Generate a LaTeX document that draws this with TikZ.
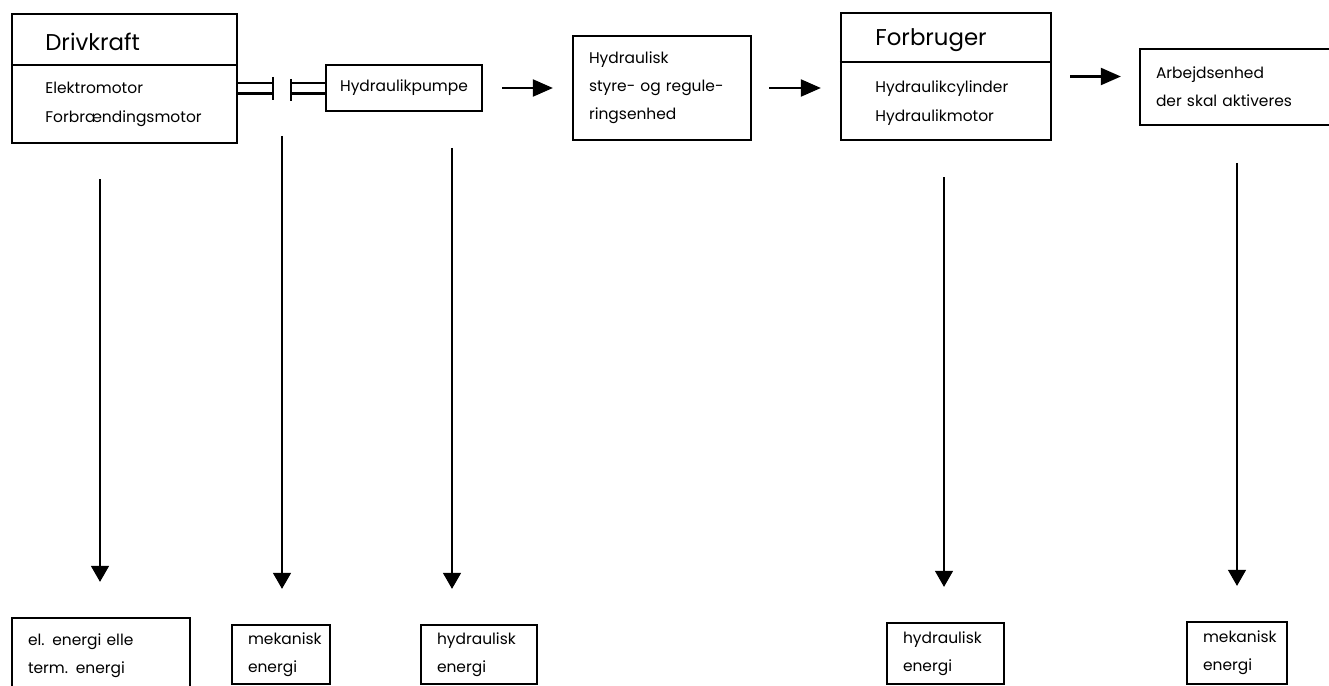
\documentclass[tikz,border=0pt]{standalone}
\usepackage{fontspec}
\setmainfont{Poppins}
\usetikzlibrary{arrows.meta}

\begin{document}
\begin{tikzpicture}[x=0.02cm, y=-0.02cm,
    boks/.style={draw, line width=1.3pt, inner xsep=0.32cm, inner ysep=0pt,
      align=left, font=\fontsize{8.8}{16}\selectfont},
    titel/.style={font=\fontsize{13}{15}\selectfont, anchor=west, inner sep=0pt},
    tekst/.style={font=\fontsize{8.8}{16.4}\selectfont, align=left, anchor=west, inner sep=0pt},
    pil/.style={line width=1.2pt, -{Triangle[length=0.4cm, width=0.34cm]}},
    nedpil/.style={line width=0.7pt, -{Triangle[length=0.32cm, width=0.36cm]}, shorten >=0.7cm},
    kobling/.style={line width=1.2pt}]
  % --- Energiomsaetning i et hydraulisk anlaeg ---
  \useasboundingbox (0,0) rectangle (1329,686);

  % ---- 1) Drivkraft ----
  \node[boks, minimum width=4.5cm, minimum height=2.58cm] (drivkraft) at (124.5,78.5) {};
  \draw[line width=1pt] ([yshift=-1.04cm]drivkraft.north west) -- ([yshift=-1.04cm]drivkraft.north east);
  \node[titel] (drivtitel) at (45,42) {Drivkraft};
  \node[tekst] (drivtekst) at (45,104.5) {Elektromotor\\Forbrændingsmotor};

  % ---- 2) Kobling og pumpe ----
  \node[boks, minimum width=3.12cm, minimum height=0.92cm, align=center, inner xsep=0pt] (pumpe) at (404,88) {Hydraulikpumpe};
  \coordinate (kobA) at (273,88);
  \coordinate (kobB) at (291,88);
  \draw[kobling] (kobA) ++(0,-11) -- ++(0,23);
  \draw[kobling] (kobA) ++(0,-5) -- ++(-36,0);
  \draw[kobling] (kobA) ++(0,5.5) -- ++(-36,0);
  \draw[kobling] (kobB) ++(0,-9) -- ++(0,22);
  \draw[kobling] (kobB) ++(0,-5) -- ++(35,0);
  \draw[kobling] (kobB) ++(0,5.5) -- ++(35,0);

  % ---- 3) Styring, forbruger, arbejdsenhed ----
  \node[boks, text width=2.92cm, minimum height=2.08cm] (styre) at (662,88)
    {Hydraulisk\\styre- og regule-\\ringsenhed};
  \node[boks, minimum width=4.2cm, minimum height=2.54cm] (forbruger) at (946,76.5) {};
  \draw[line width=1pt] ([yshift=-1.0cm]forbruger.north west) -- ([yshift=-1.0cm]forbruger.north east);
  \node[titel] (forbtitel) at (875,40) {Forbruger};
  \node[tekst] (forbtekst) at (875,103) {Hydraulikcylinder\\Hydraulikmotor};
  \node[boks, text width=3.66cm, minimum height=1.52cm] (arbejd) at (1247.5,87)
    {Arbejdsenhed\\der skal aktiveres};

  \draw[pil, shorten <=0.38cm, shorten >=0.38cm] (pumpe) -- (styre);
  \draw[pil, shorten <=0.34cm, shorten >=0.38cm] (styre.east) -- (styre.east -| forbruger.west);
  \draw[pil, shorten <=0.36cm, shorten >=0.36cm] (forbruger.east) -- (forbruger.east -| arbejd.west);

  % ---- 4) Energiformer ----
  \node[boks, text width=2.92cm, minimum height=1.5cm] (e1) at (101,655.5) {el. energi elle\\term. energi};
  \node[boks, text width=1.32cm, minimum height=1.18cm] (e2) at (281,654.5) {mekanisk\\energi};
  \node[boks, text width=1.68cm, minimum height=1.18cm] (e3) at (479,654.5) {hydraulisk\\energi};
  \node[boks, text width=1.70cm, minimum height=1.22cm] (e4) at (945.5,653.5) {hydraulisk\\energi};
  \node[boks, text width=1.36cm, minimum height=1.24cm] (e5) at (1237,653) {mekanisk\\energi};

  \coordinate (s1) at (100,179);
  \coordinate (s2) at (282,136);
  \coordinate (s3) at (452,148);
  \coordinate (s4) at (944,177);
  \coordinate (s5) at (1237,163);
  \foreach \i in {1,...,5}
    \draw[nedpil] (s\i) -- (s\i |- e\i.north);
\end{tikzpicture}
\end{document}
